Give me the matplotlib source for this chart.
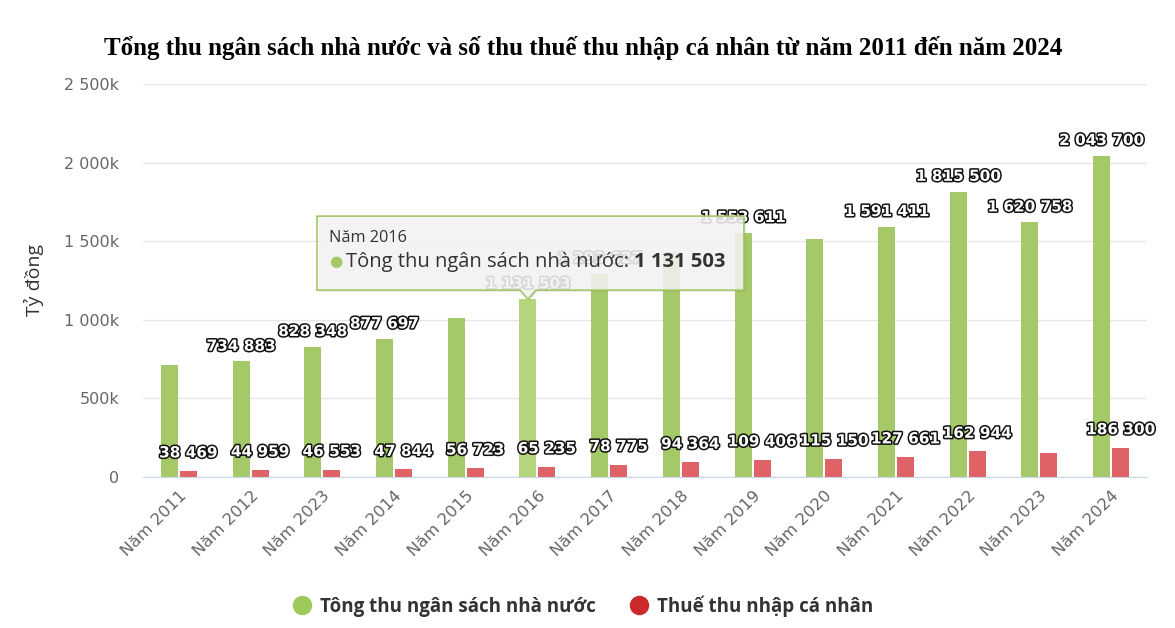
import numpy as np
import matplotlib
matplotlib.use("Agg")
from matplotlib import pyplot as plt
from matplotlib import patheffects as pe
from matplotlib.patches import Polygon
from matplotlib.lines import Line2D

categories = ["Năm 2011", "Năm 2012", "Năm 2023", "Năm 2014", "Năm 2015", "Năm 2016", "Năm 2017",
              "Năm 2018", "Năm 2019", "Năm 2020", "Năm 2021", "Năm 2022", "Năm 2023", "Năm 2024"]
tong_thu = [714000, 734883, 828348, 877697, 1014500, 1131503, 1293627,
            1431661, 1553611, 1512000, 1591411, 1815500, 1620758, 2043700]
thue_tncn = [38469, 44959, 46553, 47844, 56723, 65235, 78775,
             94364, 109406, 115150, 127661, 162944, 151000, 186300]
name_tong = "Tông thu ngân sách nhà nước"
name_thue = "Thuế thu nhập cá nhân"
title = "Tổng thu ngân sách nhà nước và số thu thuế thu nhập cá nhân từ năm 2011 đến năm 2024"
yticks = [0, 500000, 1000000, 1500000, 2000000, 2500000]
ytick_labels = ["0", "500k", "1 000k", "1 500k", "2 000k", "2 500k"]
# labels the chart library hid because they overlapped
hidden_green = {0, 4, 7, 9}
hidden_red = {12}
hover = 5

plt.rcParams['font.family'] = ['Open Sans', 'DejaVu Sans']

green = "#a5c968"
green_hover = "#b4d57d"
red = "#de6266"

def fmt(v):
    return f"{v:,}".replace(",", " ")

fig = plt.figure(figsize=(11.75, 6.28), dpi=100)
ax = fig.add_axes([143/1175, 151/628, (1147-143)/1175, (477-84)/628])

x = np.arange(len(categories))
w = 0.237
off = 0.1325
gcols = [green_hover if i == hover else green for i in range(len(x))]
ax.bar(x - off, tong_thu, w, color=gcols, zorder=2)
ax.bar(x + off, thue_tncn, w, color=red, zorder=2)

ax.set_xlim(-0.5, len(x) - 0.5)
ax.set_ylim(0, 2500000)
ax.set_yticks(yticks)
ax.set_yticklabels(ytick_labels, family='DejaVu Sans')
ax.set_xticks(x)
ax.set_xticklabels(categories, rotation=45, ha='right', va='top', rotation_mode='anchor',
                   family='DejaVu Sans')
ax.tick_params(axis='y', length=0, pad=17, labelsize=11.5, labelcolor='#666666')
ax.tick_params(axis='x', length=0, pad=8, labelsize=11.8, labelcolor='#666666')
ax.grid(axis='y', color='#e6e6e6', linewidth=1, zorder=0)
for s in ['top', 'right', 'left']:
    ax.spines[s].set_visible(False)
ax.spines['bottom'].set_color('#ccd6eb')
ax.set_axisbelow(True)

ax.yaxis.set_label_coords(-(143 - 34) / (1147 - 143), 0.5)
ax.set_ylabel("Tỷ đồng", fontsize=14, color='#333333', va='center')

fig.text(583/1175, 1 - 48/628, title, ha='center', va='center',
         fontsize=18, fontweight='bold', family='Liberation Serif', color='#000000')

outline = [pe.withStroke(linewidth=2.2, foreground='#111111')]
for i in range(len(x)):
    if i not in hidden_green:
        ax.annotate(fmt(tong_thu[i]), (x[i] - off, tong_thu[i]), xytext=(0, 11),
                    textcoords='offset points', ha='center', va='center',
                    fontsize=11, fontweight='bold', color='white', family='DejaVu Sans',
                    path_effects=outline, zorder=3)
    if i not in hidden_red:
        ax.annotate(fmt(thue_tncn[i]), (x[i] + off, thue_tncn[i]), xytext=(0, 13),
                    textcoords='offset points', ha='center', va='center',
                    fontsize=11, fontweight='bold', color='white', family='DejaVu Sans',
                    path_effects=outline, zorder=3)

handles = [Line2D([], [], marker='o', linestyle='', markersize=13, color='#9ccb5b'),
           Line2D([], [], marker='o', linestyle='', markersize=13, color='#cc2a2a')]
fig.legend(handles, [name_tong, name_thue], loc='center', bbox_to_anchor=(583/1175, 1 - 606/628),
           ncol=2, frameon=False, handlelength=1, handletextpad=0.45, columnspacing=1.85,
           prop={'weight': 'bold', 'size': 13.5}, labelcolor='#333333')

# tooltip on hovered column
fig.canvas.draw()
tx, ty = ax.transData.transform((x[hover] - off, tong_thu[hover]))
L, R, T, B = tx - 211, tx + 216, ty + 83, ty + 9
pts = [(L, B), (tx - 8, B), (tx, ty), (tx + 8, B), (R, B), (R, T), (L, T)]
shadow = Polygon([(px + 1.5, py - 1.5) for px, py in pts], closed=True, transform=None,
                 facecolor='black', alpha=0.12, edgecolor='none', zorder=9)
box = Polygon(pts, closed=True, transform=None, facecolor=(0.97, 0.97, 0.97, 0.86),
              edgecolor='#a4c967', linewidth=1.2, zorder=10)
fig.patches.extend([shadow, box])
fig.text((L + 12) / 1175, (ty + 61) / 628, categories[hover], ha='left', va='center',
         fontsize=11.7, color='#333333', zorder=11)
fig.text((L + 19) / 1175, (ty + 37) / 628, "●", ha='center', va='center',
         fontsize=11, color=green, zorder=11)
t1 = fig.text((L + 29) / 1175, (ty + 37) / 628, name_tong + ": ", ha='left', va='center',
              fontsize=14.5, color='#333333', zorder=11)
fig.canvas.draw()
bb = t1.get_window_extent()
fig.text(bb.x1 / 1175, (ty + 37) / 628, fmt(tong_thu[hover]), ha='left', va='center',
         fontsize=14.5, fontweight='bold', color='#333333', zorder=11)

fig.savefig("out.png", dpi=100)
